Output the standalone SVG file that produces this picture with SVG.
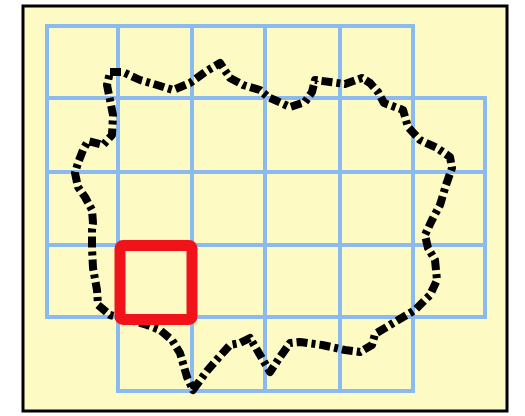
<svg xmlns="http://www.w3.org/2000/svg" width="525" height="416" viewBox="0 0 525 416">
<style>
.grid{fill:none;stroke:#8bbaf0;stroke-width:4;stroke-linecap:square}
.blob{fill:none;stroke:#000;stroke-width:8;stroke-dasharray:11 4 4 4;stroke-linejoin:round}
.sel{fill:none;stroke:#f0141a;stroke-width:11}
</style>
<rect width="525" height="416" fill="#ffffff"/>
<rect id="frame" x="23" y="6" width="484" height="405" fill="#fefac4" stroke="#000" stroke-width="3"/>
<g id="grid" class="grid">
<path d="M47 26H413M47 98H485M47 172H485M47 245H485M47 317H485M118 391H413"/>
<path d="M47 26V317M118 26V391M192 26V391M265 26V391M340 26V391M413 26V391M485 98V317"/>
</g>
<g id="boundary">
<path class="blob" d="M110 72 L123 72 L140 80 L157 85 L173 90 L190 83 L205 72 L220 63 L230 78 L243 85 L260 90 L268 97 L290 107 L305 102 L312 92 L315 80 L330 82 L345 84 L362 78 L370 83 L378 92 L384 103 L403 110 L408 127 L420 140 L437 148 L450 157 L452 168 L446 185 L440 205 L432 220 L425 235 L428 248 L435 260 L437 280 L430 295 L415 310 L395 322 L375 334 L372 345 L360 352 L345 350 L322 345 L300 342 L290 343 L280 357 L270 372 L260 355 L250 338 L240 343 L230 345 L220 356 L207 371 L193 390 L187 377 L180 353 L172 340 L160 330 L147 325 L130 320 L110 315 L98 305 L97 290 L93 268 L92 248 L92 230 L93 223 L92 210 L85 197 L78 187 L75 173 L78 163 L83 150 L88 141 L103 145 L112 135 L113 115 L110 100 L107 85 Z"/>
</g>
<g id="selected-cell">
<rect class="sel" x="120" y="245.5" width="72" height="74" rx="3"/>
</g>
</svg>
